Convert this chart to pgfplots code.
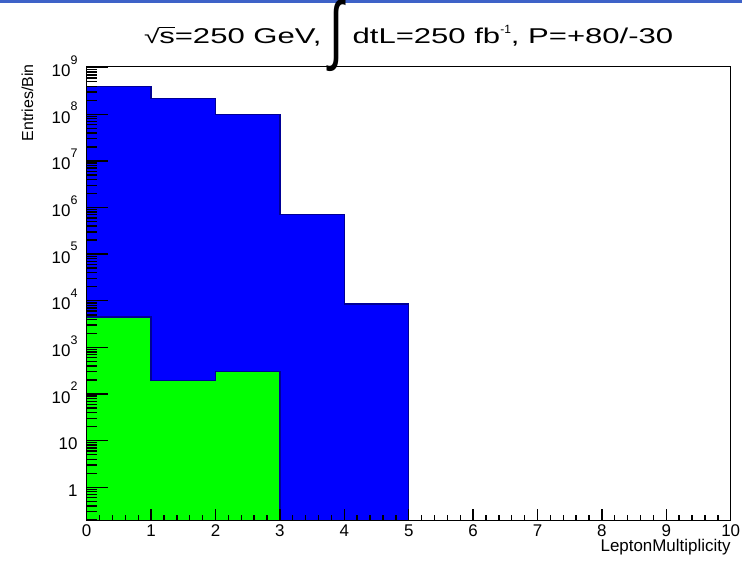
\documentclass[border=0pt]{standalone}
\usepackage{pgfplots}
\pgfplotsset{compat=1.18}
\usepackage{graphicx}
\usepackage{fontspec}
\setmainfont{Liberation Sans}
\newfontfamily\titlefont[FakeStretch=1.45]{Liberation Sans}

\definecolor{histblue}{RGB}{0,0,255}
\definecolor{histgreen}{RGB}{0,255,0}
\definecolor{histedge}{RGB}{0,0,150}
\definecolor{band}{RGB}{62,98,200}

% raised exponent for the decade labels
\newcommand\tsup[1]{\raisebox{12.4bp}{\fontsize{12.5}{14}\selectfont #1}}
\newcommand\labfont{\fontsize{17}{20}\selectfont}

\begin{document}
\begin{tikzpicture}[x=1bp,y=1bp]
\useasboundingbox (0,0) rectangle (742,563);
\fill[band] (0,559.5) rectangle (742,563);

\begin{axis}[
  at={(86.7bp,42.3bp)}, anchor=south west,
  scale only axis, width=644bp, height=454.4bp,
  xmin=0, xmax=10,
  ymode=log, log basis y=10, ymin=0.192, ymax=1.07e9,
  axis on top,
  axis line style={line width=1.5bp, black},
  tick align=inside, xtick pos=lower, ytick pos=left,
  tick style={line width=1.4bp, black},
  major tick length=21bp, minor tick length=10.5bp,
  xtick style={/pgfplots/major tick length=12bp, /pgfplots/minor tick length=6bp},
  xtick={0,1,2,3,4,5,6,7,8,9,10},
  xticklabels={0,1,2,3,4,5,6,7,8,9,10},
  minor x tick num=4,
  ytick={1,10,100,1e3,1e4,1e5,1e6,1e7,1e8,1e9},
  yticklabels={1,10,10\tsup{2},10\tsup{3},10\tsup{4},10\tsup{5},10\tsup{6},10\tsup{7},10\tsup{8},10\tsup{9}},
  minor ytick={0.2,0.3,0.4,0.5,0.6,0.7,0.8,0.9,
    2,3,4,5,6,7,8,9,
    20,30,40,50,60,70,80,90,
    200,300,400,500,600,700,800,900,
    2e3,3e3,4e3,5e3,6e3,7e3,8e3,9e3,
    2e4,3e4,4e4,5e4,6e4,7e4,8e4,9e4,
    2e5,3e5,4e5,5e5,6e5,7e5,8e5,9e5,
    2e6,3e6,4e6,5e6,6e6,7e6,8e6,9e6,
    2e7,3e7,4e7,5e7,6e7,7e7,8e7,9e7,
    2e8,3e8,4e8,5e8,6e8,7e8,8e8,9e8},
  xticklabel style={anchor=base, inner sep=0pt, yshift=-16bp, font=\labfont},
  yticklabel style={anchor=base east, inner sep=0pt, xshift=-9bp, yshift=-9bp, font=\labfont},
]
% all events per lepton multiplicity bin
\addplot[const plot, fill=histblue, draw=histedge, line width=1.3bp]
  coordinates {(0,0.1) (0,4.0e8) (1,2.2e8) (2,9.8e7) (3,7.0e5) (4,8.5e3) (5,8.5e3) (5,0.1)} -- cycle;
% selected subset
\addplot[const plot, fill=histgreen, draw=histedge, line width=1.3bp]
  coordinates {(0,0.1) (0,4.5e3) (1,1.95e2) (2,3.0e2) (3,3.0e2) (3,0.1)} -- cycle;
\end{axis}

% title
\node[anchor=base, inner sep=0pt, font=\titlefont\fontsize{21.5}{25}\selectfont] at (408.7,519.7)
  {\resizebox*{!}{15.7bp}{√}\kern-0.5bp\sbox0{s}\rlap{\rule[15.4bp]{\wd0}{1.3bp}}s=250 GeV, %
   \sbox2{∫}\raisebox{-28.7bp}[0pt][0pt]{\resizebox{14bp}{72bp}{\raisebox{\dp2}{∫}}} %
   dtL=250 fb\raisebox{10bp}{\normalfont\fontsize{12}{14}\selectfont -1}, P=+80/-30};

% axis titles
\node[rotate=90, anchor=base east, inner sep=0pt, font=\fontsize{16}{19}\selectfont] at (33,499) {Entries/Bin};
\node[anchor=base east, inner sep=0pt, font=\labfont] at (730.7,11) {LeptonMultiplicity};
\end{tikzpicture}
\end{document}
